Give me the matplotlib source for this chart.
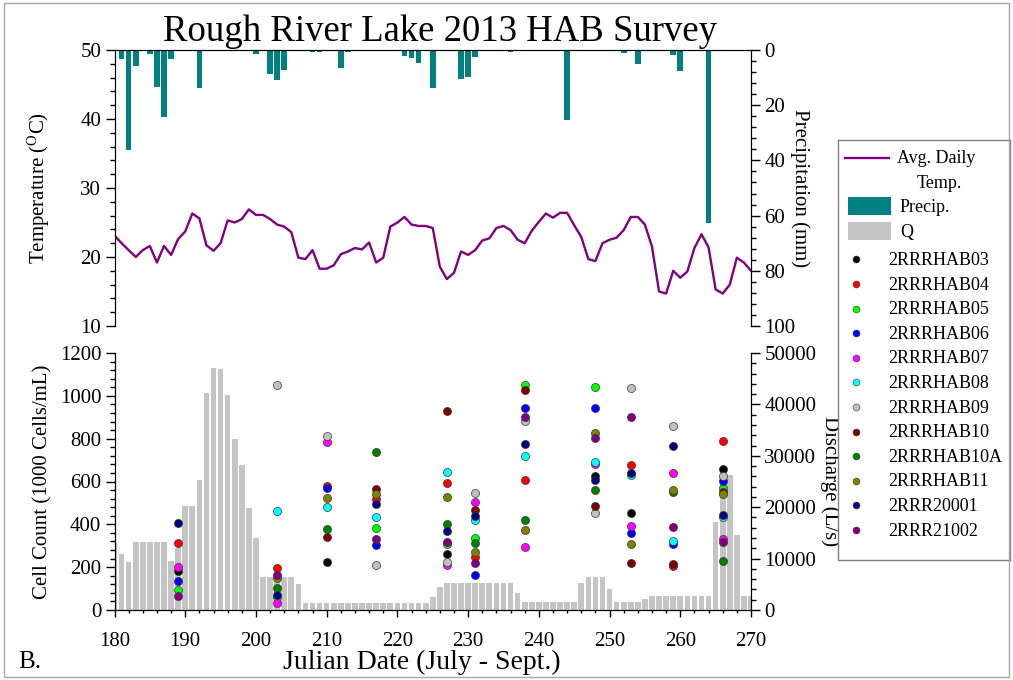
import numpy as np
import matplotlib
matplotlib.use("Agg")
import matplotlib.pyplot as plt
from matplotlib.patches import Rectangle
from matplotlib.ticker import MultipleLocator

plt.rcParams["font.family"] = ["Liberation Serif", "DejaVu Serif"]
plt.rcParams["mathtext.fontset"] = "stix"

# ---------------- data ----------------
temp_days = list(range(180, 271))
temp_c = [23.1, 22.0, 21.0, 20.0, 21.0, 21.6, 19.2, 21.6, 20.3, 22.6,
          23.7, 26.3, 25.6, 21.7, 20.9, 22.0, 25.3, 25.0, 25.5, 26.9,
          26.1, 26.1, 25.5, 24.7, 24.4, 23.6, 19.9, 19.7, 21.0, 18.3,
          18.3, 18.8, 20.4, 20.8, 21.3, 21.1, 22.1, 19.2, 19.9, 24.4,
          25.0, 25.8, 24.7, 24.5, 24.5, 24.2, 18.6, 16.8, 17.7, 20.8,
          20.3, 21.0, 22.4, 22.7, 24.2, 24.5, 23.9, 22.5, 22.0, 23.8,
          25.1, 26.3, 25.7, 26.4, 26.4, 24.6, 22.9, 19.7, 19.4, 22.0,
          22.5, 22.8, 23.9, 25.8, 25.8, 24.7, 21.5, 15.0, 14.7, 18.0,
          17.0, 17.9, 21.3, 23.3, 21.4, 15.3, 14.7, 16.0, 19.9, 19.2,
          18.0]

precip_days = [181, 182, 183, 185, 186, 187, 188, 192, 200, 202, 203, 204,
               208, 209, 212, 213, 221, 222, 223, 225, 229, 230, 231, 236,
               244, 252, 254, 259, 260, 262, 264, 268]
precip_mm = [3.3, 36.2, 5.7, 1.5, 13.5, 24.4, 3.1, 13.9, 1.5, 8.6, 10.9, 7.2,
             0.8, 0.8, 6.5, 0.7, 2.0, 3.0, 4.8, 13.9, 10.5, 9.8, 2.4, 0.8,
             25.4, 1.2, 5.0, 1.7, 7.5, 0.5, 62.8, 0.5]

q_days = list(range(180, 271))
q_ls = [13100, 10900, 9300, 13200, 13200, 13200, 13200, 13200, 9600, 12000,
        20300, 20300, 25300, 42200, 47000, 46800, 41800, 33200, 28200, 19800,
        13950, 6500, 6500, 6500, 6500, 6500, 5100, 1450, 1450, 1450,
        1450, 1450, 1450, 1450, 1450, 1450, 1450, 1450, 1450, 1450,
        1450, 1450, 1450, 1450, 1450, 2600, 4550, 5200, 5200, 5200,
        5200, 5200, 5200, 5200, 5200, 5200, 5200, 3400, 1500, 1500,
        1500, 1500, 1500, 1500, 1500, 1500, 5200, 6500, 6500, 6500,
        4000, 1500, 1500, 1500, 1500, 2100, 2800, 2800, 2800, 2800,
        2800, 2800, 2800, 2800, 2800, 17100, 25000, 26300, 14600, 2800,
        2800]

sample_days = [189, 203, 210, 217, 227, 231, 238, 248, 253, 259, 266]
nan = np.nan
site_names = ["2RRRHAB03", "2RRRHAB04", "2RRRHAB05", "2RRRHAB06", "2RRRHAB07",
              "2RRRHAB08", "2RRRHAB09", "2RRRHAB10", "2RRRHAB10A", "2RRRHAB11",
              "2RRR20001", "2RRR21002"]
site_colors = ["#000000", "#ff0000", "#00ff00", "#0000ff", "#ff00ff",
               "#00ffff", "#c0c0c0", "#800000", "#008000", "#808000",
               "#000080", "#800080"]
hab03 = [181, nan, 226, nan, 261, nan, nan, 626, 451, nan, 657]
hab04 = [314, 198, 578, 519, 591, 246, 607, nan, 677, 205, 790]
hab05 = [93, 59, nan, 384, 310, 335, 1050, 1043, nan, nan, 568]
hab06 = [135, nan, 568, 302, nan, 163, 942, 942, 358, 308, 604]
hab07 = [202, 32, 786, nan, 210, 503, 293, 681, 392, 641, 330]
hab08 = [nan, 462, 482, 436, 646, 420, 719, 692, 630, 324, 436]
hab09 = [nan, 1050, 812, 210, 226, 548, 884, 451, 1035, 859, 626]
hab10 = [nan, nan, 339, 566, 930, 467, 1027, 486, 221, 215, 550]
hab10a = [nan, 101, 378, 738, 400, 314, 420, 560, nan, 553, 230]
hab11 = [nan, 151, 521, 542, 529, 269, 374, 828, 307, 560, 542]
rrr20001 = [405, 72, nan, 495, 369, 440, 775, 607, 641, 767, 444]
rrr21002 = [65, 163, nan, 330, 319, 218, 903, 805, 900, 389, 319]
site_counts = [hab03, hab04, hab05, hab06, hab07, hab08, hab09, hab10,
               hab10a, hab11, rrr20001, rrr21002]

TEMP_COLOR = "#800080"
PRECIP_COLOR = "#008080"
Q_COLOR = "#c4c4c4"

# ---------------- layout ----------------
W, H = 1013, 680
fig = plt.figure(figsize=(W / 100, H / 100), dpi=100)


def box(left, top, right, bottom):
    return [left / W, 1 - bottom / H, (right - left) / W, (bottom - top) / H]


TICK_FS = 15
LABEL_FS = 15


def style_y(ax, major, minor):
    ax.yaxis.set_major_locator(MultipleLocator(major))
    ax.yaxis.set_minor_locator(MultipleLocator(minor))
    ax.tick_params(axis="y", which="major", direction="out", length=6.5,
                   width=1, labelsize=TICK_FS, pad=3)
    ax.tick_params(axis="y", which="minor", direction="out", length=3.5,
                   width=1)


# ---- top panel: temperature + precipitation ----
ax_t = fig.add_axes(box(114.5, 50, 751, 326))
ax_p = ax_t.twinx()
ax_t.set_zorder(ax_p.get_zorder() + 1)
ax_t.patch.set_visible(False)

ax_p.bar(precip_days, precip_mm, width=0.8, color=PRECIP_COLOR, linewidth=0)
ax_p.set_ylim(100, 0)
ax_t.plot(temp_days, temp_c, color=TEMP_COLOR, lw=1.7)
ax_t.set_ylim(10, 50)
ax_t.set_xlim(180, 270)

for a in (ax_t, ax_p):
    a.spines["bottom"].set_visible(False)
    a.tick_params(axis="x", which="both", bottom=False, top=False,
                  labelbottom=False)
style_y(ax_t, 10, 2)
style_y(ax_p, 20, 4)

ax_t.set_ylabel(r"Temperature ($\mathregular{^O}$C)", fontsize=LABEL_FS)
ax_t.yaxis.set_label_coords(-0.098, 0.5)
ax_p.set_ylabel("Precipitation (mm)", fontsize=LABEL_FS, rotation=270,
                va="bottom")
ax_p.yaxis.set_label_coords(1.062, 0.5)

# ---- bottom panel: cell counts + discharge ----
ax_c = fig.add_axes(box(114.5, 353, 751, 610))
ax_q = ax_c.twinx()
ax_c.set_zorder(ax_q.get_zorder() + 1)
ax_c.patch.set_visible(False)

ax_q.bar(q_days, q_ls, width=0.8, color=Q_COLOR, linewidth=0)
ax_q.set_ylim(0, 50000)

for name, color, counts in zip(site_names, site_colors, site_counts):
    ax_c.scatter(sample_days, counts, s=34, color=color, edgecolors="#3a3a3a",
                 linewidths=0.5, zorder=3, clip_on=False)
ax_c.set_ylim(0, 1200)
ax_c.set_xlim(180, 270)

for a in (ax_c, ax_q):
    a.spines["top"].set_visible(False)
style_y(ax_c, 200, 40)
style_y(ax_q, 10000, 2000)

ax_c.xaxis.set_major_locator(MultipleLocator(10))
ax_c.xaxis.set_minor_locator(MultipleLocator(2))
ax_c.tick_params(axis="x", which="major", direction="out", length=5,
                 width=1, labelsize=TICK_FS, pad=11)
ax_c.tick_params(axis="x", which="minor", direction="out", length=2.5,
                 width=1)

ax_c.set_ylabel("Cell Count (1000 Cells/mL)", fontsize=LABEL_FS)
ax_c.yaxis.set_label_coords(-0.098, 0.5)
ax_q.set_ylabel("Discharge (L/s)", fontsize=LABEL_FS, rotation=270,
                va="bottom")
ax_q.yaxis.set_label_coords(1.108, 0.5)
ax_c.set_xlabel("Julian Date (July - Sept.)", fontsize=20)
ax_c.xaxis.set_label_coords(0.483, -0.155)

# ---- figure texts ----
fig.text(0.434, 0.954, "Rough River Lake 2013 HAB Survey", fontsize=26.5,
         ha="center", va="center")
fig.text(0.018, 0.026, "B.", fontsize=18, ha="left", va="center")

# ---- legend ----
ax_l = fig.add_axes(box(838, 140, 1010, 560))
ax_l.set_xlim(838, 1010)
ax_l.set_ylim(560, 140)
ax_l.set_xticks([])
ax_l.set_yticks([])
for sp in ax_l.spines.values():
    sp.set_color("#808080")
    sp.set_linewidth(1)

LEG_FS = 13
ax_l.plot([845, 889], [158.5, 158.5], color=TEMP_COLOR, lw=1.7)
ax_l.text(897, 159, "Avg. Daily", fontsize=LEG_FS, va="center", ha="left")
ax_l.text(939, 184, "Temp.", fontsize=LEG_FS, va="center", ha="center")
ax_l.add_patch(Rectangle((847.5, 197.5), 43.5, 18, color=PRECIP_COLOR, lw=0))
ax_l.text(900, 208, "Precip.", fontsize=LEG_FS, va="center", ha="left")
ax_l.add_patch(Rectangle((847.5, 222.5), 43.5, 18, color=Q_COLOR, lw=0))
ax_l.text(900, 232.5, "Q", fontsize=LEG_FS, va="center", ha="left")
for i, (name, color) in enumerate(zip(site_names, site_colors)):
    y = 259.5 + i * 24.6
    ax_l.plot([855.7], [y], marker="o", ms=5, color=color,
              markeredgecolor="#3a3a3a", markeredgewidth=0.4, linestyle="none")
    ax_l.text(888, y + 1, name, fontsize=LEG_FS, va="center", ha="left")

# outer frame
fig.patches.append(Rectangle((0.004, 0.004), 0.992, 0.992,
                             transform=fig.transFigure, fill=False,
                             edgecolor="#a8a8a8", linewidth=1))

fig.savefig("out.png", dpi=100)
